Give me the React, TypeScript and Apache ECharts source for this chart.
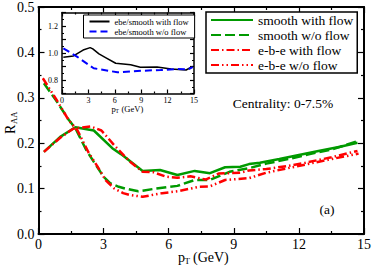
import React, { useEffect, useRef } from 'react';
import * as echarts from 'echarts';

// ---- main panel data (pT in GeV, R_AA) ----
const smoothFlowX = [0.25, 1.0, 1.7, 2.55, 3.4, 3.8, 4.8, 5.6, 6.4, 7.2, 7.9, 8.6, 9.3, 9.7, 10.2, 11.1, 12.0, 12.9, 13.9, 14.7];
const smoothFlowY = [0.181, 0.214, 0.235, 0.228, 0.189, 0.176, 0.139, 0.141, 0.130, 0.139, 0.134, 0.147, 0.148, 0.154, 0.157, 0.165, 0.174, 0.183, 0.192, 0.201];

const smoothNoFlowX = [0.25, 0.8, 1.4, 1.7, 2.2, 2.55, 3.0, 3.3, 3.7, 4.0, 4.6, 5.4, 6.4, 7.2, 7.9, 8.8, 9.7, 10.5, 11.5, 12.5, 13.5, 14.75];
const smoothNoFlowY = [0.332, 0.295, 0.251, 0.233, 0.185, 0.159, 0.126, 0.112, 0.104, 0.100, 0.094, 0.100, 0.106, 0.119, 0.119, 0.137, 0.145, 0.155, 0.165, 0.176, 0.186, 0.205];

const ebeFlowX = [0.25, 1.0, 1.6, 2.4, 2.9, 3.5, 4.2, 4.8, 5.3, 5.9, 6.4, 7.0, 7.7, 8.3, 9.3, 9.7, 10.5, 11.5, 12.3, 13.5, 14.7];
const ebeFlowY = [0.181, 0.212, 0.232, 0.237, 0.228, 0.195, 0.160, 0.137, 0.136, 0.126, 0.124, 0.127, 0.120, 0.133, 0.135, 0.140, 0.143, 0.150, 0.157, 0.169, 0.183];

const ebeNoFlowX = [0.2, 0.8, 1.4, 1.8, 2.3, 2.7, 3.1, 3.5, 3.9, 4.2, 4.8, 5.7, 6.4, 7.4, 7.9, 8.6, 9.7, 10.5, 11.5, 12.5, 13.5, 14.75];
const ebeNoFlowY = [0.343, 0.298, 0.250, 0.228, 0.180, 0.150, 0.118, 0.100, 0.090, 0.086, 0.082, 0.090, 0.094, 0.104, 0.105, 0.119, 0.123, 0.135, 0.145, 0.155, 0.165, 0.177];

// ---- inset data (pT, ratio ebe/smooth) ----
const ratioFlowX = [0.15, 1.3, 2.4, 3.2, 3.5, 4.2, 4.9, 6.1, 7.8, 8.9, 10.8, 12.4, 14.1, 14.85];
const ratioFlowY = [0.968, 0.978, 1.022, 1.04, 1.03, 0.993, 0.968, 0.924, 0.913, 0.894, 0.896, 0.881, 0.874, 0.9];
const ratioNoFlowX = [0.15, 1.7, 3.6, 6.3, 8.55, 11.2, 13.1, 14.3, 14.85];
const ratioNoFlowY = [1.035, 0.973, 0.887, 0.857, 0.867, 0.874, 0.881, 0.878, 0.895];

const mainNames = ['smooth with flow', 'smooth w/o flow', 'e-b-e with flow', 'e-b-e w/o flow'];
const insetNames = ['ebe/smooth with flow', 'ebe/smooth w/o flow'];

const FONT = '"Liberation Serif", "DejaVu Serif", serif';
const pairs = (xs: number[], ys: number[]) => xs.map((x, i) => [x, ys[i]]);

function axis(gridIndex: number, opts: any, labelSize: number, showLabel: boolean, tickLen: number, lw: number, kind: 'x' | 'y') {
  return {
    type: 'value',
    gridIndex,
    ...opts,
    splitLine: { show: false },
    axisLine: { show: true, onZero: false, lineStyle: { color: '#000', width: lw } },
    axisTick: { show: true, inside: true, length: tickLen, lineStyle: { color: '#000', width: 1.2 } },
    minorTick: { show: true, splitNumber: 2, length: tickLen / 2, lineStyle: { color: '#000', width: 1.2 } },
    axisLabel: {
      show: showLabel,
      color: '#000',
      fontFamily: FONT,
      fontSize: labelSize,
      margin: kind === 'x' ? 3 : 4,
      ...(opts.axisLabel || {}),
    },
  };
}

export default function App() {
  const ref = useRef<HTMLDivElement>(null);
  useEffect(() => {
    const chart = echarts.init(ref.current!, null, { renderer: 'svg' });
    const mainX = { min: 0, max: 15, interval: 3 };
    const mainY = { min: 0, max: 0.5, interval: 0.1, axisLabel: { formatter: (v: number) => v.toFixed(1) } };
    const insX = { min: 0, max: 15, interval: 3 };
    const insY = {
      min: 0.7, max: 1.3, interval: 0.1,
      axisLabel: { formatter: (v: number) => (Math.round(v * 10) % 2 === 0 ? v.toFixed(1) : '') },
    };
    const option: any = {
      animation: false,
      backgroundColor: '#fff',
      grid: [
        { left: 38.5, top: 6, width: 330, height: 228 },
        { left: 62, top: 12.5, width: 132, height: 81, show: true, backgroundColor: '#fff', borderWidth: 0, z: 3 },
      ],
      xAxis: [
        { ...axis(0, mainX, 14, true, 6, 2, 'x'), position: 'bottom' },
        { ...axis(0, mainX, 14, false, 6, 2, 'x'), position: 'top' },
        { ...axis(1, insX, 8, true, 4, 1.5, 'x'), position: 'bottom', z: 4 },
        { ...axis(1, insX, 8, false, 4, 1.5, 'x'), position: 'top', z: 4 },
      ],
      yAxis: [
        { ...axis(0, mainY, 14, true, 6, 2, 'y'), position: 'left' },
        { ...axis(0, mainY, 14, false, 6, 2, 'y'), position: 'right' },
        { ...axis(1, insY, 8, true, 4, 1.5, 'y'), position: 'left', z: 4 },
        { ...axis(1, insY, 8, false, 4, 1.5, 'y'), position: 'right', z: 4 },
      ],
      legend: [
        {
          data: mainNames,
          orient: 'vertical',
          left: 206,
          top: 12,
          itemWidth: 42,
          itemHeight: 10,
          itemGap: 1,
          padding: [1, 4, 1, 4],
          borderColor: '#000',
          borderWidth: 1.5,
          backgroundColor: '#fff',
          itemStyle: { opacity: 0 },
          textStyle: { fontFamily: FONT, fontSize: 13.5, color: '#000', lineHeight: 12.5 },
        },
        {
          data: insetNames,
          orient: 'vertical',
          left: 83.5,
          top: 15,
          itemWidth: 20,
          itemHeight: 8,
          itemGap: 1,
          padding: [2, 6, 2, 5],
          borderColor: '#000',
          borderWidth: 1,
          backgroundColor: '#fff',
          itemStyle: { opacity: 0 },
          z: 6,
          textStyle: { fontFamily: FONT, fontSize: 8.5, color: '#000', lineHeight: 9 },
        },
      ],
      series: [
        {
          name: mainNames[0], type: 'line', xAxisIndex: 0, yAxisIndex: 0, symbol: 'none',
          data: pairs(smoothFlowX, smoothFlowY),
          lineStyle: { color: '#009a00', width: 2.5, type: 'solid' }, itemStyle: { color: '#009a00' },
        },
        {
          name: mainNames[1], type: 'line', xAxisIndex: 0, yAxisIndex: 0, symbol: 'none',
          data: pairs(smoothNoFlowX, smoothNoFlowY),
          lineStyle: { color: '#009a00', width: 2.5, type: [10, 4] }, itemStyle: { color: '#009a00' },
        },
        {
          name: mainNames[2], type: 'line', xAxisIndex: 0, yAxisIndex: 0, symbol: 'none',
          data: pairs(ebeFlowX, ebeFlowY),
          lineStyle: { color: '#ff0000', width: 2.5, type: [8, 3, 1.5, 3] }, itemStyle: { color: '#ff0000' },
        },
        {
          name: mainNames[3], type: 'line', xAxisIndex: 0, yAxisIndex: 0, symbol: 'none',
          data: pairs(ebeNoFlowX, ebeNoFlowY),
          lineStyle: { color: '#ff0000', width: 2.5, type: [8, 3, 1.5, 3, 1.5, 3] }, itemStyle: { color: '#ff0000' },
        },
        {
          name: insetNames[0], type: 'line', xAxisIndex: 2, yAxisIndex: 2, symbol: 'none', z: 5,
          data: pairs(ratioFlowX, ratioFlowY),
          lineStyle: { color: '#000', width: 1.5, type: 'solid' }, itemStyle: { color: '#000' },
        },
        {
          name: insetNames[1], type: 'line', xAxisIndex: 2, yAxisIndex: 2, symbol: 'none', z: 5,
          data: pairs(ratioNoFlowX, ratioNoFlowY),
          lineStyle: { color: '#0000ff', width: 2, type: [7, 4] }, itemStyle: { color: '#0000ff' },
        },
      ],
      graphic: [
        // main x-axis title p_T (GeV)
        { type: 'text', x: 178, y: 257, style: { text: 'p', fontSize: 14, fontFamily: FONT, fill: '#000', verticalAlign: 'middle' } },
        { type: 'text', x: 184.5, y: 261, style: { text: 'T', fontSize: 9, fontFamily: FONT, fill: '#000', verticalAlign: 'middle' } },
        { type: 'text', x: 193, y: 257, style: { text: '(GeV)', fontSize: 14, fontFamily: FONT, fill: '#000', verticalAlign: 'middle' } },
        // y-axis title R_AA
        {
          type: 'group', x: 15, y: 134, rotation: Math.PI / 2,
          children: [
            { type: 'text', x: 0, y: -5, style: { text: 'R', fontSize: 14, fontFamily: FONT, fill: '#000', verticalAlign: 'middle' } },
            { type: 'text', x: 10, y: -1, style: { text: 'AA', fontSize: 8.5, fontFamily: FONT, fill: '#000', verticalAlign: 'middle' } },
          ],
        },
        // inset x title
        { type: 'text', x: 111.5, y: 108.5, z: 10, style: { text: 'p', fontSize: 8.5, fontFamily: FONT, fill: '#000', verticalAlign: 'middle' } },
        { type: 'text', x: 115.5, y: 111, z: 10, style: { text: 'T', fontSize: 5.5, fontFamily: FONT, fill: '#000', verticalAlign: 'middle' } },
        { type: 'text', x: 121.5, y: 108.5, z: 10, style: { text: '(GeV)', fontSize: 8.5, fontFamily: FONT, fill: '#000', verticalAlign: 'middle' } },
        // annotations
        { type: 'text', x: 283, y: 103, style: { text: 'Centrality: 0-7.5%', fontSize: 13.5, fontFamily: FONT, fill: '#000', align: 'center', verticalAlign: 'middle' } },
        { type: 'text', x: 327, y: 209, style: { text: '(a)', fontSize: 13.5, fontFamily: FONT, fill: '#000', align: 'center', verticalAlign: 'middle' } },
      ],
    };
    chart.setOption(option);
    return () => chart.dispose();
  }, []);
  return <div ref={ref} style={{ position: 'absolute', left: 0, top: 0, width: 374, height: 267 }} />;
}
